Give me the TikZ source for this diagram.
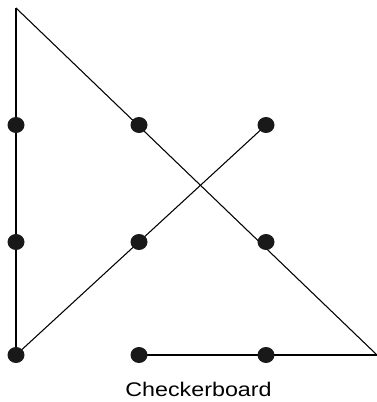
\documentclass[tikz,border=0pt]{standalone}
\usepackage{fontspec}
\setmainfont{Liberation Sans}

\begin{document}
\begin{tikzpicture}[x=0.75pt,y=-0.75pt,line width=0.8pt,
  dot/.style={fill=black!90}]
  \useasboundingbox (0,0) rectangle (377,402);
  \coordinate (T) at (16,8);
  \coordinate (E) at (377,355);
  \coordinate (D11) at (16,125);
  \coordinate (D12) at (139,125);
  \coordinate (D13) at (266,125);
  \coordinate (D21) at (16,242);
  \coordinate (D22) at (139,242);
  \coordinate (D23) at (266,242);
  \coordinate (D31) at (16,355);
  \coordinate (D32) at (139,355);
  \coordinate (D33) at (266,355);
  \draw (T) -- (D31);
  \draw (D31) -- (D13);
  \draw (T) -- (E);
  \draw (E) -- (D32);
  \foreach \d in {D11,D12,D13,D21,D22,D23,D31,D32,D33}
    \fill[dot] (\d) ellipse (8.5 and 8);
  \node[anchor=base,inner sep=0pt] (label) at (198.5,396.5)
    {\scalebox{1.18}[1]{\fontsize{14.8pt}{17pt}\selectfont Checkerboard}};
\end{tikzpicture}
\end{document}
